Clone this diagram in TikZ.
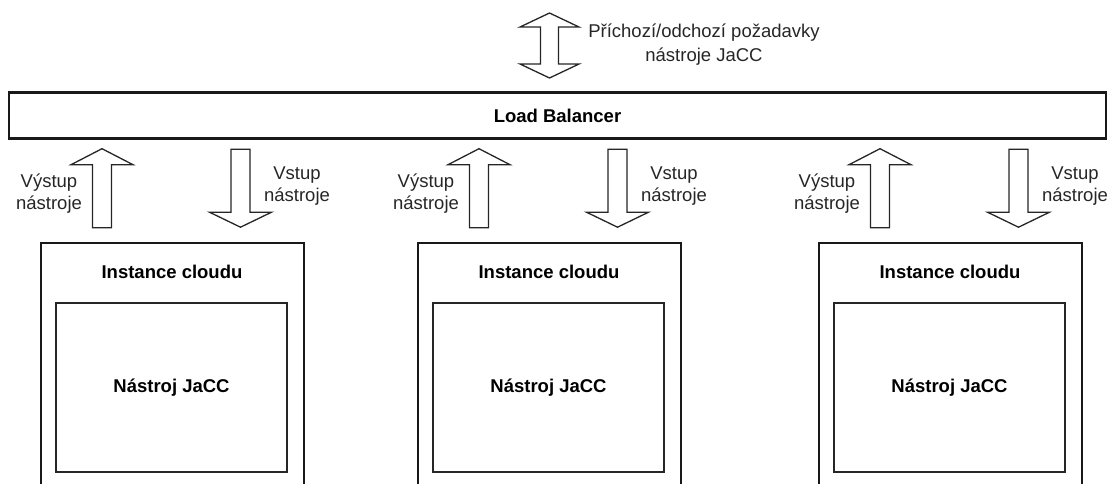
\documentclass[tikz,border=0pt]{standalone}
\usepackage{fontspec}
\setmainfont{Liberation Sans}
\begin{document}
\begin{tikzpicture}[x=1pt,y=-1pt,
  txt/.style={font=\fontsize{18.5}{22}\selectfont, text=black!85, align=center, inner sep=0pt},
  bold/.style={font=\fontsize{18.5}{22}\selectfont\bfseries, text=black, inner sep=0pt},
  lbbox/.style={draw=black!90, line width=2.4pt, fill=white, inner sep=0pt,
    minimum width=1097pt, minimum height=46pt},
  instbox/.style={draw=black!90, line width=2pt, fill=white, inner sep=0pt,
    minimum width=263pt, minimum height=270pt, anchor=north},
  toolbox/.style={draw=black!85, line width=1.3pt, fill=white, inner sep=0pt,
    minimum width=231pt, minimum height=169pt},
  blockarrow/.style={draw=black!85, line width=1.3pt, fill=white, line join=miter},
  uparrow/.pic={\draw[blockarrow] (-9.5,79) -- (-9.5,16) -- (-31,16) -- (0,0)
      -- (31,16) -- (9.5,16) -- (9.5,79) -- cycle;},
  downarrow/.pic={\draw[blockarrow] (-9.5,0) -- (9.5,0) -- (9.5,63) -- (31,63)
      -- (0,78) -- (-31,63) -- (-9.5,63) -- cycle;},
  bothways/.pic={\draw[blockarrow] (0,0) -- (29.5,14) -- (9,14) -- (9,51)
      -- (29.5,51) -- (0,65) -- (-29.5,51) -- (-9,51) -- (-9,14)
      -- (-29.5,14) -- cycle;}
]
\useasboundingbox (0,0) rectangle (1112,483);
\clip (0,0) rectangle (1112,483);

% incoming / outgoing requests
\pic at (549.5,13) {bothways};
\node[txt, font=\fontsize{18.5}{24}\selectfont] (req) at (704,45) {Příchozí/odchozí požadavky\\nástroje JaCC};

% load balancer
\node[lbbox, bold] (lb) at (557.5,115.5) {Load Balancer};

% three cloud instances with their tool
\foreach \cx/\i in {172/1, 549/2, 950/3} {
  \node[instbox] (inst\i) at (\cx,242) {};
  \node[bold] (instlabel\i) at (\cx,272) {Instance cloudu};
  \node[toolbox, bold] (tool\i) at (\cx-0.5,387.5) {Nástroj JaCC};
  % output goes up to the balancer, input comes down from it
  \pic at ([xshift=-70pt]inst\i.north |- lb.south) [yshift=-9pt] {uparrow};
  \pic at ([xshift=68.5pt]inst\i.north |- lb.south) [yshift=-9.5pt] {downarrow};
  \node[txt] (out\i) at (\cx-123,194) {Výstup\\nástroje};
  \node[txt] (in\i) at (\cx+125,186) {Vstup\\nástroje};
}
\end{tikzpicture}
\end{document}
